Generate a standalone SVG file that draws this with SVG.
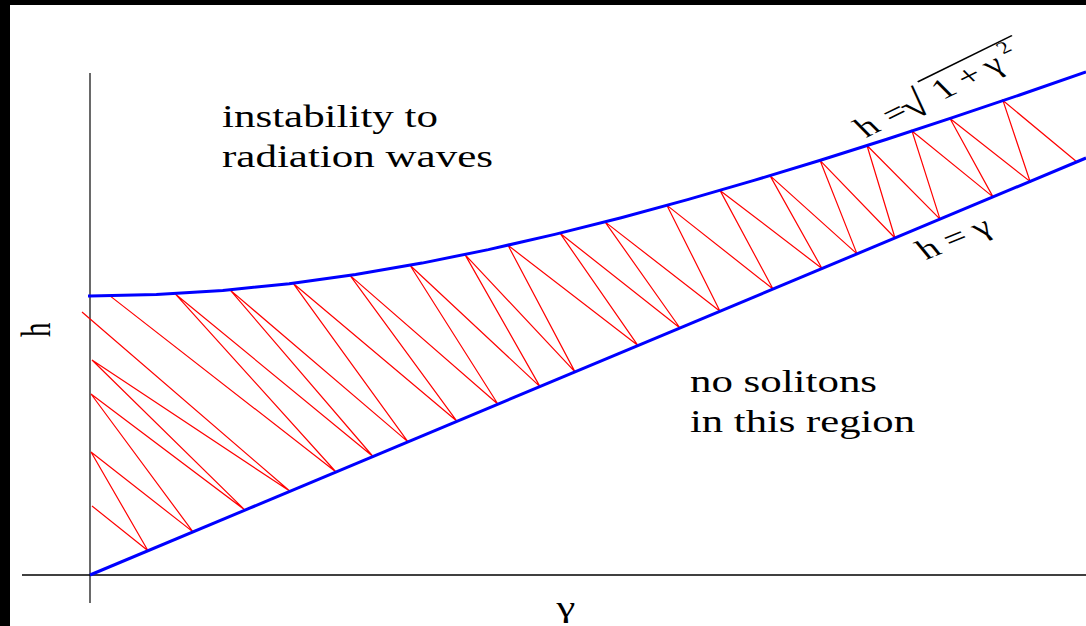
<svg xmlns="http://www.w3.org/2000/svg" width="1086" height="626" viewBox="0 0 1086 626">
<style>
.t{font-family:"Liberation Serif","Times New Roman",serif;font-size:32px;fill:#000}
.m{font-family:"Liberation Serif","Times New Roman",serif;font-size:28px;fill:#000}
.blue{fill:none;stroke:#0000ff;stroke-width:3}
.red{fill:none;stroke:#ff0000;stroke-width:1.2}
</style>
<rect width="1086" height="626" fill="#fff"/>
<rect x="0" y="0" width="1086" height="5" fill="#000"/>
<rect x="0" y="0" width="10" height="626" fill="#000"/>
<g id="axes">
<line x1="90" y1="73" x2="90" y2="603" stroke="#444" stroke-width="1.6"/>
<line x1="22" y1="575" x2="1086" y2="575" stroke="#000" stroke-width="1.4"/>
</g>
<g id="connectors">
<polyline class="red" points="92,506 148,550.7 91,452 193,531.9 91,394 245,510.1 92,360 290,491.3 82,312"/>
<polyline class="red" points="110,295.9 336,472 175,293.7 373,456.5 230,289.9 408,441.9 293,283.2 457,421.3 350,275.4 498,404.2 410,265.3 540,386.6 465,254.6 575,371.9 508,245.3 638,345.6 560,233.2 680,328 605,221.9 720,311.2 667,205.4 773,289 720,190.4 822,268.5 770,175.6 857,253.9 820,160.3 895,238 867,145.5 940,219.1 912,131 993,196.9 950,118.5 1030,181.4 1003,100.6 1077,162"/>
<polyline id="upper" class="blue" points="88,296 90,296 156.4,294.6 222.8,290.5 289.2,283.7 355.6,274.5 422,263.1 488.4,249.6 554.8,234.4 621.2,217.7 687.6,199.6 754,180.4 820.4,160.2 886.8,139.2 953.2,117.4 1019.6,95 1086,72"/>
<line id="lower" class="blue" x1="90" y1="575" x2="1086" y2="158"/>
</g>
<g id="label-instability">
<text class="t" x="222" y="127" textLength="216" lengthAdjust="spacingAndGlyphs">instability to</text>
<text class="t" x="222" y="167" textLength="271" lengthAdjust="spacingAndGlyphs">radiation waves</text>
</g>
<g id="label-nosolitons">
<text class="t" x="690" y="392" textLength="187" lengthAdjust="spacingAndGlyphs">no solitons</text>
<text class="t" x="690" y="432" textLength="225" lengthAdjust="spacingAndGlyphs">in this region</text>
</g>
<g id="label-h-axis">
<text class="t" transform="translate(50,337) scale(1.42,1) rotate(-90)" style="font-size:29px">h</text>
</g>
<g id="label-gamma-axis">
<text class="t" transform="translate(566,617) scale(1.42,1)" text-anchor="middle" style="font-size:30px">γ</text>
</g>
<g id="label-upper" transform="translate(866,138) scale(1.42,1) rotate(-35)">
<text class="m" x="0" y="0">h</text>
<text class="m" x="23" y="0">=</text>
<text class="m" x="37" y="5" style="font-size:37px">√</text>
<text class="m" x="66" y="0">1</text>
<text class="m" x="87" y="0">+</text>
<text class="m" x="109" y="0">γ</text>
<text class="m" x="127" y="-13" style="font-size:17px">2</text>
<line x1="62" y1="-25" x2="143" y2="-25" stroke="#000" stroke-width="1.5"/>
</g>
<g id="label-lower" transform="translate(926,260) scale(1.42,1) rotate(-30)">
<text class="m" x="0" y="0">h = γ</text>
</g>
</svg>
